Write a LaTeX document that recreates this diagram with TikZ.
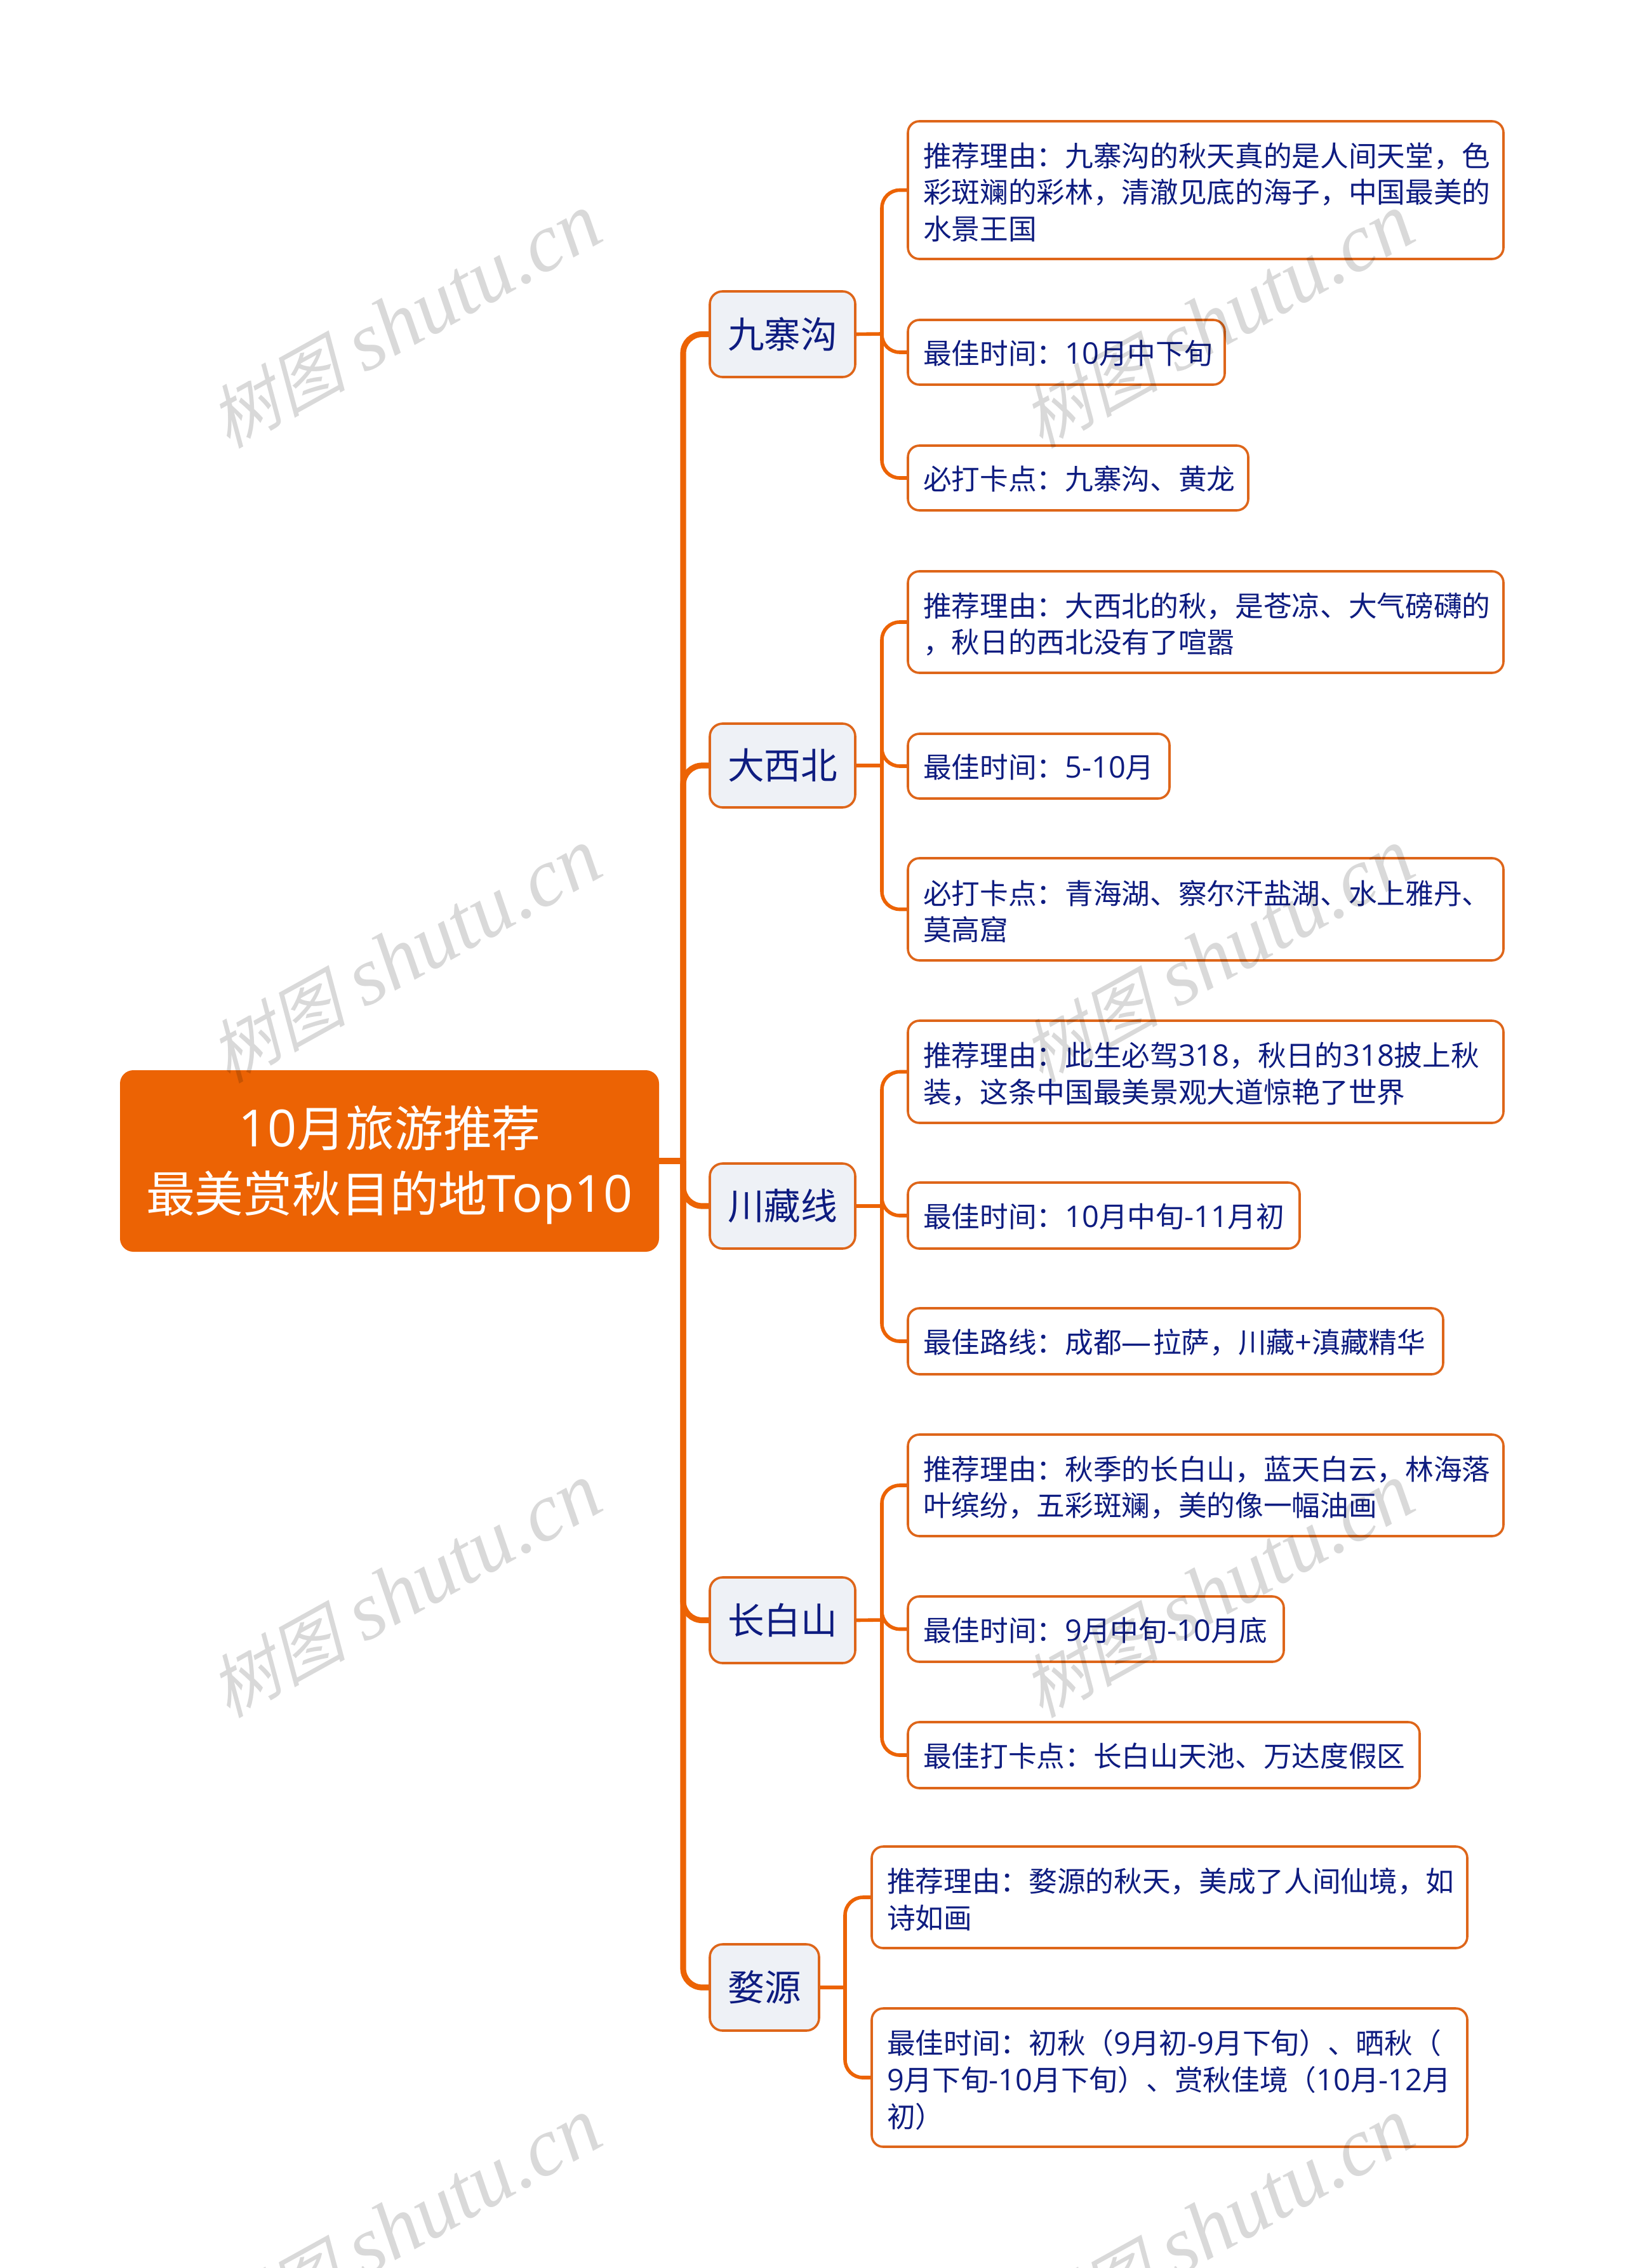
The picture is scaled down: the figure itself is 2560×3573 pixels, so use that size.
\documentclass[tikz,border=0pt]{standalone}
\usepackage{fontspec}
\setmainfont{Noto Sans CJK SC}
\newfontfamily\wmcjk[FakeSlant=0.25]{Noto Sans CJK SC}
\newfontfamily\wmlat{Liberation Serif}
\newfontfamily\latfont[Scale=1.05]{Open Sans}
\newcommand{\lat}[1]{\mbox{\latfont #1}}
\definecolor{mapor}{HTML}{EC6304}
\definecolor{mapedge}{HTML}{DE661A}
\definecolor{mapnavy}{HTML}{0E1C80}
\definecolor{mapfill}{HTML}{EEF1F6}
\hbadness=10000 \hfuzz=20pt
\lineskiplimit=-20pt
\lineskip=0pt
\tikzset{
  area/.style n args={4}{at={({(#1+#3)/2},{(#2+#4)/2})},minimum width={(#3-#1)*0.25pt},minimum height={(#4-#2)*0.25pt}},
  leafarea/.style n args={4}{area={#1}{#2}{#3}{#4},text width={(#3-#1-48)*0.25pt}},
  rootbox/.style={draw=mapor,fill=mapor,text=white,rounded corners=5pt,inner sep=0pt,line width=0.5pt,align=center,font=\fontsize{19.2}{25.7}\selectfont},
  branchbox/.style={draw=mapedge,fill=mapfill,text=mapnavy,rounded corners=5pt,inner sep=0pt,line width=0.9pt,align=center,font=\fontsize{14.4}{18}\selectfont},
  leafbox/.style={draw=mapedge,fill=white,text=mapnavy,rounded corners=4.5pt,inner sep=0pt,line width=0.9pt,align=left,font=\fontsize{11.17}{14.4}\selectfont,execute at end node={\par\vspace{-1.7pt}}},
  trunkline/.style={draw=mapor,line width=2.3pt,rounded corners=7.5pt},
  stubline/.style={draw=mapor,line width=1.4pt,rounded corners=7pt},
  wm/.style={text=black,text opacity=0.15,rotate=29,inner sep=0pt,font=\fontsize{32.5}{33}\selectfont},
}
\newcommand{\wmtext}{{\wmcjk\fontsize{27}{27}\selectfont 树图} {\wmlat\itshape shutu.cn}}
\begin{document}
\begin{tikzpicture}[x=0.25pt,y=-0.25pt]
\useasboundingbox (0,0) rectangle (2560,3573);
% trunk connectors
\coordinate (tr) at (1076,1829);
\coordinate (s1) at (1389,526);
\coordinate (s2) at (1389,1206);
\coordinate (s3) at (1389,1900);
\coordinate (s4) at (1389,2552);
\coordinate (s5) at (1331,3131);
% nodes
\node[rootbox,area={190}{1687}{1037}{1971},text width=200pt,execute at end node={\par\vspace{-3pt}}] (root) {\lat{10}月旅游推荐\\最美赏秋目的地\lat{Top10}};
\node[branchbox,area={1118}{459}{1347}{594}] (b1) {九寨沟};
\node[branchbox,area={1118}{1140}{1347}{1272}] (b2) {大西北};
\node[branchbox,area={1118}{1833}{1347}{1967}] (b3) {川藏线};
\node[branchbox,area={1118}{2485}{1347}{2620}] (b4) {长白山};
\node[branchbox,area={1118}{3063}{1290}{3199}] (b5) {婺源};
\node[leafbox,leafarea={1430}{191}{2368}{408}] (l11) {推荐理由：九寨沟的秋天真的是人间天堂，色\\彩斑斓的彩林，清澈见底的海子，中国最美的\\水景王国};
\node[leafbox,leafarea={1430}{504}{1929}{606}] (l12) {最佳时间：\lat{10}月中下旬};
\node[leafbox,leafarea={1430}{702}{1966}{804}] (l13) {必打卡点：九寨沟、黄龙};
\node[leafbox,leafarea={1430}{900}{2368}{1060}] (l21) {推荐理由：大西北的秋，是苍凉、大气磅礴的\\，秋日的西北没有了喧嚣};
\node[leafbox,leafarea={1430}{1156}{1842}{1258}] (l22) {最佳时间：\lat{5-10}月};
\node[leafbox,leafarea={1430}{1352}{2368}{1513}] (l23) {必打卡点：青海湖、察尔汗盐湖、水上雅丹、\\莫高窟};
\node[leafbox,leafarea={1430}{1608}{2368}{1769}] (l31) {推荐理由：此生必驾\lat{318}，秋日的\lat{318}披上秋\\装，这条中国最美景观大道惊艳了世界};
\node[leafbox,leafarea={1430}{1863}{2047}{1967}] (l32) {最佳时间：\lat{10}月中旬\lat{-11}月初};
\node[leafbox,leafarea={1430}{2061}{2273}{2165}] (l33) {最佳路线：成都\lat{—}\kern0.6pt 拉萨，川藏\lat{+}滇藏精华};
\node[leafbox,leafarea={1430}{2260}{2368}{2420}] (l41) {推荐理由：秋季的长白山，蓝天白云，林海落\\叶缤纷，五彩斑斓，美的像一幅油画};
\node[leafbox,leafarea={1430}{2515}{2022}{2618}] (l42) {最佳时间：\lat{9}月中旬\lat{-10}月底};
\node[leafbox,leafarea={1430}{2713}{2236}{2817}] (l43) {最佳打卡点：长白山天池、万达度假区};
\node[leafbox,leafarea={1373}{2909}{2311}{3069}] (l51) {推荐理由：婺源的秋天，美成了人间仙境，如\\诗如画};
\node[leafbox,leafarea={1373}{3164}{2311}{3382}] (l52) {最佳时间：初秋（\lat{9}月初\lat{-9}月下旬）、晒秋（\\\lat{9}月下旬\lat{-10}月下旬）、赏秋佳境（\lat{10}月\lat{-12}月\\初）};
% connectors
\draw[trunkline] (root.east) -- (tr);
\foreach \b in {b1,b2,b3,b4,b5} \draw[trunkline] (tr) |- (\b.west);
\draw[stubline] (b1.east) -- (s1);
\foreach \l in {l11,l12,l13} \draw[stubline] (s1) |- (\l.west);
\draw[stubline] (b2.east) -- (s2);
\foreach \l in {l21,l22,l23} \draw[stubline] (s2) |- (\l.west);
\draw[stubline] (b3.east) -- (s3);
\foreach \l in {l31,l32,l33} \draw[stubline] (s3) |- (\l.west);
\draw[stubline] (b4.east) -- (s4);
\foreach \l in {l41,l42,l43} \draw[stubline] (s4) |- (\l.west);
\draw[stubline] (b5.east) -- (s5);
\foreach \l in {l51,l52} \draw[stubline] (s5) |- (\l.west);
% watermarks
\begin{scope}
\clip (0,0) rectangle (2560,3573);
\node[wm] (w11) at (638,506) {\wmtext};
\node[wm] (w12) at (1918,506) {\wmtext};
\node[wm] (w21) at (638,1506) {\wmtext};
\node[wm] (w22) at (1918,1506) {\wmtext};
\node[wm] (w31) at (638,2506) {\wmtext};
\node[wm] (w32) at (1918,2506) {\wmtext};
\node[wm] (w41) at (638,3506) {\wmtext};
\node[wm] (w42) at (1918,3506) {\wmtext};
\end{scope}
\end{tikzpicture}
\end{document}
